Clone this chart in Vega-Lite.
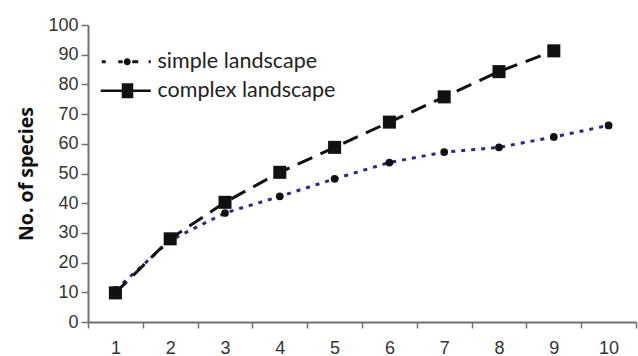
{
  "$schema": "https://vega.github.io/schema/vega-lite/v6.json",
  "width": 548,
  "height": 297,
  "autosize": "none",
  "padding": {"left": 88, "top": 25, "right": 2, "bottom": 34},
  "background": "white",
  "config": {"view": {"stroke": null}},
  "data": {"values": [
    {"x": 1, "series": "simple landscape", "y": 10.8},
    {"x": 2, "series": "simple landscape", "y": 27.5},
    {"x": 3, "series": "simple landscape", "y": 36.7},
    {"x": 4, "series": "simple landscape", "y": 42.3},
    {"x": 5, "series": "simple landscape", "y": 48.2},
    {"x": 6, "series": "simple landscape", "y": 53.7},
    {"x": 7, "series": "simple landscape", "y": 57.2},
    {"x": 8, "series": "simple landscape", "y": 58.8},
    {"x": 9, "series": "simple landscape", "y": 62.3},
    {"x": 10, "series": "simple landscape", "y": 66.2},
    {"x": 1, "series": "complex landscape", "y": 9.8},
    {"x": 2, "series": "complex landscape", "y": 28.0},
    {"x": 3, "series": "complex landscape", "y": 40.3},
    {"x": 4, "series": "complex landscape", "y": 50.4},
    {"x": 5, "series": "complex landscape", "y": 58.8},
    {"x": 6, "series": "complex landscape", "y": 67.3},
    {"x": 7, "series": "complex landscape", "y": 75.8},
    {"x": 8, "series": "complex landscape", "y": 84.3},
    {"x": 9, "series": "complex landscape", "y": 91.3}
  ]},
  "encoding": {
    "x": {
      "field": "x", "type": "ordinal", "bandPosition": 0.5,
      "scale": {"type": "band", "domain": [1,2,3,4,5,6,7,8,9,10], "paddingInner": 0, "paddingOuter": 0},
      "axis": {
        "title": null, "labelAngle": 0, "tickBand": "extent",
        "domainColor": "#707070", "domainWidth": 2, "tickColor": "#707070", "tickWidth": 1.5, "tickSize": 6,
        "labelFont": "Liberation Sans", "labelFontSize": 18, "labelColor": "#333333", "labelPadding": 11
      }
    },
    "y": {
      "field": "y", "type": "quantitative",
      "scale": {"domain": [0, 100], "nice": false, "zero": true},
      "axis": {
        "title": "No. of species", "values": [0,10,20,30,40,50,60,70,80,90,100], "grid": false,
        "domainColor": "#707070", "domainWidth": 2, "tickColor": "#707070", "tickWidth": 1.5, "tickSize": 7,
        "labelFont": "Liberation Sans", "labelFontSize": 18, "labelColor": "#333333", "labelPadding": 3,
        "titleFont": "Open Sans", "titleFontSize": 19.5, "titleFontWeight": "bold", "titleColor": "#111111",
        "titleX": -52
      }
    }
  },
  "layer": [
    {
      "transform": [{"filter": "datum.series == 'simple landscape'"}],
      "mark": {"type": "line", "color": "#28288c", "strokeWidth": 3, "strokeDash": [4, 6]}
    },
    {
      "transform": [{"filter": "datum.series == 'complex landscape'"}],
      "mark": {"type": "line", "color": "#111111", "strokeWidth": 3, "strokeDash": [16, 9]}
    },
    {
      "transform": [{"filter": "datum.series == 'simple landscape'"}],
      "mark": {"type": "point", "shape": "circle", "filled": true, "color": "#111111", "size": 60, "opacity": 1}
    },
    {
      "transform": [{"filter": "datum.series == 'complex landscape'"}],
      "mark": {"type": "point", "shape": "square", "filled": true, "color": "#111111", "size": 170, "opacity": 1}
    },
    {
      "mark": {"type": "point", "opacity": 0, "size": 0, "filled": true, "color": "#111111"},
      "encoding": {
        "shape": {
          "field": "series", "type": "nominal",
          "scale": {
            "domain": ["simple landscape", "complex landscape"],
            "range": [
              "M-2.4,-0.15H-2V0.15H-2.4Z M-0.75,-0.15H-0.3V0.15H-0.75Z M0.5,0 A0.35,0.35 0 1,1 -0.2,0 A0.35,0.35 0 1,1 0.5,0 Z M0.65,-0.15H1.25V0.15H0.65Z M2.3,-0.15H2.5V0.15H2.3Z",
              "M-2.5,-0.125H2.5V0.125H-2.5Z M-0.4,-0.75H0.75V-0.125H-0.4Z M-0.4,0.125H0.75V0.75H-0.4Z M-0.4,-0.125H0.75V0.125H-0.4Z"
            ]
          },
          "legend": {
            "title": null, "orient": "none", "legendX": 27, "legendY": 26,
            "symbolSize": 400, "symbolFillColor": "#111111", "symbolStrokeWidth": 0,
            "labelFont": "Lato", "labelFontSize": 21.5, "labelColor": "#222222", "labelOffset": 21, "labelLimit": 300,
            "rowPadding": 6,
            "encode": {
              "symbols": {"update": {
                "fill": {"value": "#111111"}, "opacity": {"value": 1},
                "stroke": {"value": "transparent"}, "strokeWidth": {"value": 0}
              }}
            }
          }
        }
      }
    }
  ]
}
